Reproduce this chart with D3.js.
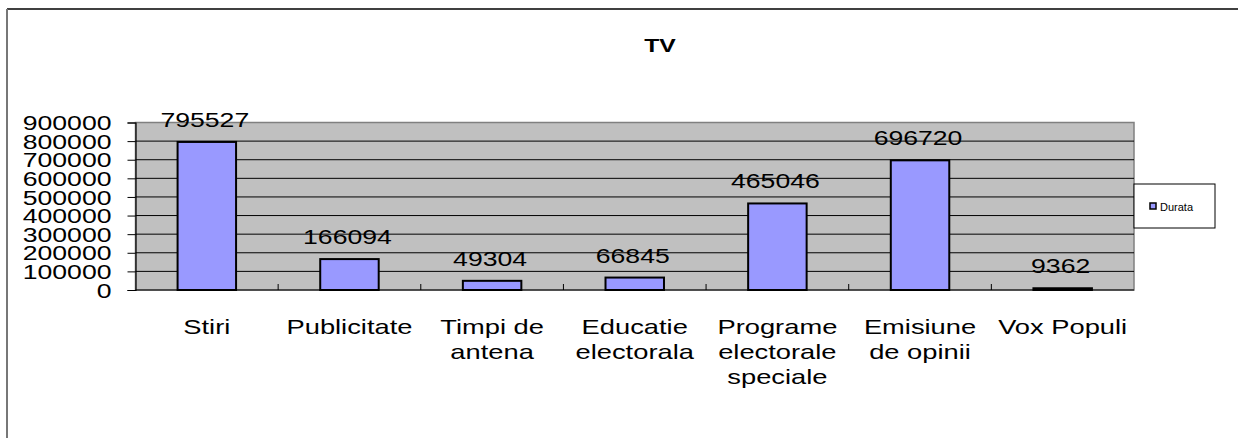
<html>
<head>
<meta charset="utf-8">
<script src="https://d3js.org/d3.v7.min.js"></script>
<style>
  body { margin: 0; background: #fff; }
  text { font-family: "Liberation Sans", Arial, sans-serif; fill: #000; }
</style>
</head>
<body>
<div class="chart"></div>
<script>
    // TV - Durata
    const categories = [
        ["Stiri"],
        ["Publicitate"],
        ["Timpi de", "antena"],
        ["Educatie", "electorala"],
        ["Programe", "electorale", "speciale"],
        ["Emisiune", "de opinii"],
        ["Vox Populi"]
    ];
    const durata = [795527, 166094, 49304, 66845, 465046, 696720, 9362];
    const yTicks = [0, 100000, 200000, 300000, 400000, 500000, 600000, 700000, 800000, 900000];
    const seriesName = "Durata";
    const title = "TV";

    const width = 1238, height = 438;
    const plot = { left: 135.5, right: 1134, top: 122.5, bottom: 290 };

    const svg = d3.select('.chart')
        .append('svg')
        .attr('width', width)
        .attr('height', height);

    // outer chart border (clipped on right/bottom)
    svg.append('line').attr('x1', 7).attr('x2', width).attr('y1', 9).attr('y2', 9)
        .attr('stroke', '#000').attr('stroke-width', 1.5);
    svg.append('line').attr('x1', 7).attr('x2', 7).attr('y1', 9).attr('y2', height)
        .attr('stroke', '#777').attr('stroke-width', 2);

    // excel-like horizontal stretch of the text
    function stretch(sel, k) {
        sel.each(function() {
            const len = this.getComputedTextLength();
            d3.select(this).attr('textLength', len * k).attr('lengthAdjust', 'spacingAndGlyphs');
        });
    }

    svg.append('text')
        .attr('x', 660).attr('y', 52)
        .attr('text-anchor', 'middle')
        .style('font-size', '19px').style('font-weight', 'bold')
        .text(title)
        .call(stretch, 1.3);

    const xScale = d3.scaleBand()
        .domain(d3.range(categories.length))
        .range([plot.left, plot.right])
        .paddingInner(0.59).paddingOuter(0.295);

    const xBound = d3.scaleLinear()
        .domain([0, categories.length])
        .range([plot.left, plot.right]);

    const yScale = d3.scaleLinear()
        .domain([0, 900000])
        .range([plot.bottom, plot.top]);

    // plot background
    svg.append('rect')
        .attr('x', plot.left).attr('y', plot.top)
        .attr('width', plot.right - plot.left).attr('height', plot.bottom - plot.top)
        .attr('fill', '#C0C0C0').attr('stroke', '#808080').attr('stroke-width', 1.5);

    // gridlines
    svg.append('g').selectAll('line')
        .data(yTicks.filter(d => d > 0 && d < 900000))
        .join('line')
        .attr('x1', plot.left).attr('x2', plot.right)
        .attr('y1', d => yScale(d)).attr('y2', d => yScale(d))
        .attr('stroke', '#000').attr('stroke-width', 1);

    // y axis
    const yAxis = d3.axisLeft(yScale).tickValues(yTicks).tickSize(8).tickPadding(16).tickFormat(d3.format('d'));
    const yAxisGroup = svg.append('g')
        .attr('transform', `translate(${plot.left},0)`)
        .call(yAxis);
    yAxisGroup.select('.domain').attr('stroke', '#000').attr('stroke-width', 1.2);
    yAxisGroup.selectAll('.tick line').attr('stroke', '#000');
    yAxisGroup.selectAll('.tick text')
        .attr('dy', '0.36em')
        .style('font-size', '20px').style('font-family', '"Liberation Sans", Arial, sans-serif')
        .attr('fill', '#000')
        .call(stretch, 1.33);

    // bars
    svg.append('g').selectAll('rect')
        .data(durata)
        .join('rect')
        .attr('x', (d, i) => xScale(i))
        .attr('y', d => yScale(d))
        .attr('width', xScale.bandwidth())
        .attr('height', d => yScale(0) - yScale(d))
        .attr('fill', '#9999FF')
        .attr('stroke', '#000').attr('stroke-width', 2);

    // x axis line + inner ticks on category boundaries
    svg.append('line')
        .attr('x1', plot.left).attr('x2', plot.right)
        .attr('y1', plot.bottom).attr('y2', plot.bottom)
        .attr('stroke', '#000').attr('stroke-width', 1.2);
    svg.append('g').selectAll('line')
        .data(d3.range(1, categories.length))
        .join('line')
        .attr('x1', d => xBound(d)).attr('x2', d => xBound(d))
        .attr('y1', plot.bottom).attr('y2', plot.bottom - 6)
        .attr('stroke', '#000');

    // value labels
    svg.append('g').selectAll('text')
        .data(durata)
        .join('text')
        .attr('x', (d, i) => xScale(i) + xScale.bandwidth() / 2 - 2)
        .attr('y', d => yScale(d) - 15)
        .attr('text-anchor', 'middle')
        .style('font-size', '20px')
        .text(d => d)
        .call(stretch, 1.33);

    // category labels
    const catGroup = svg.append('g');
    categories.forEach((lines, i) => {
        lines.forEach((t, j) => {
            catGroup.append('text')
                .attr('x', xScale(i) + xScale.bandwidth() / 2)
                .attr('y', 334 + j * 25)
                .attr('text-anchor', 'middle')
                .style('font-size', '21px')
                .text(t)
                .call(stretch, 1.3);
        });
    });

    // legend
    const legend = svg.append('g');
    legend.append('rect')
        .attr('x', 1134).attr('y', 184).attr('width', 81).attr('height', 44)
        .attr('fill', '#fff').attr('stroke', '#000').attr('stroke-width', 1);
    legend.append('rect')
        .attr('x', 1150).attr('y', 203).attr('width', 6).attr('height', 6)
        .attr('fill', '#9999FF').attr('stroke', '#000').attr('stroke-width', 1.5);
    legend.append('text')
        .attr('x', 1160).attr('y', 211)
        .style('font-size', '11px')
        .text(seriesName);
</script>
</body>
</html>
